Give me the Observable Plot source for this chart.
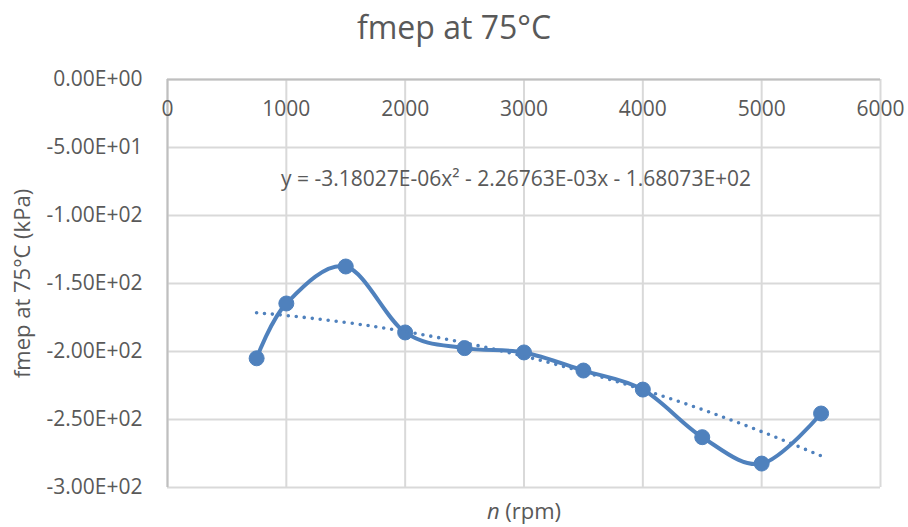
<!DOCTYPE html>
<html><head><meta charset="utf-8">
<script src="https://cdn.jsdelivr.net/npm/d3@7"></script>
<script src="https://cdn.jsdelivr.net/npm/@observablehq/plot@0.6"></script>
<style>
body{margin:0;background:#fff;font-family:"Open Sans",sans-serif;}
#title{height:52px;line-height:54px;text-align:center;font-size:32px;color:#595959;}
#chart svg{display:block;}
</style></head><body>
<div id="title">fmep at 75°C</div>
<div id="chart"></div>
<script>
// Measured series
const rpm = [750, 1000, 1500, 2000, 2500, 3000, 3500, 4000, 4500, 5000, 5500];
const fmep = [-205, -164.7, -137.5, -186, -197.5, -200.7, -214, -228, -263, -282.4, -245.6];

// Polynomial trendline (values read at the sample speeds)
const trendRpm = [750, 1000, 1500, 2000, 2500, 3000, 3500, 4000, 4500, 5000, 5500];
const trendFmep = [-171.56, -173.52, -178.63, -185.33, -193.62, -203.50, -214.97, -228.03, -242.68, -258.92, -276.75];

const xTicks = [0, 1000, 2000, 3000, 4000, 5000, 6000];
const yTicks = [0, -50, -100, -150, -200, -250, -300];
const yTickLabels = ["0.00E+00", "-5.00E+01", "-1.00E+02", "-1.50E+02", "-2.00E+02", "-2.50E+02", "-3.00E+02"];
const equation = "y = -3.18027E-06x² - 2.26763E-03x - 1.68073E+02";
const equationAt = {x: 2933, y: -73.5};
const yLabel = "fmep at 75°C (kPa)";

const data = rpm.map((x, i) => ({x, y: fmep[i]}));
const trend = trendRpm.map((x, i) => ({x, y: trendFmep[i]}));
const blue = "#4F81BD";
const textColor = "#595959";

const chart = Plot.plot({
  width: 908, height: 475,
  marginTop: 27, marginBottom: 40, marginLeft: 167, marginRight: 28,
  x: {domain: [0, 6000], axis: null},
  y: {domain: [-300, 0], axis: null},
  style: {fontFamily: "Open Sans", color: textColor, background: "#fff"},
  marks: [
    Plot.gridX(xTicks, {stroke: "#d9d9d9", strokeOpacity: 1, strokeWidth: 2}),
    Plot.gridY(yTicks, {stroke: "#d9d9d9", strokeOpacity: 1, strokeWidth: 2}),
    Plot.ruleX([0], {stroke: "#bfbfbf", strokeWidth: 2}),
    Plot.ruleY([0], {stroke: "#bfbfbf", strokeWidth: 2}),
    Plot.line(data, {x: "x", y: "y", curve: "cardinal", stroke: blue, strokeWidth: 4}),
    Plot.dot(data, {x: "x", y: "y", r: 7.5, fill: blue, stroke: blue, strokeWidth: 1}),
    Plot.line(trend, {x: "x", y: "y", curve: "natural", stroke: blue, strokeWidth: 3.6,
      strokeDasharray: "0 8", strokeLinecap: "round"}),
    Plot.text(xTicks, {x: d => d, y: 0, dy: 30, text: d => String(d), fontSize: 21, fill: textColor}),
    Plot.text(yTicks, {x: 0, y: d => d, dx: -25, textAnchor: "end", text: (d, i) => yTickLabels[i], fontSize: 21, fill: textColor}),
    Plot.text([equation], {x: equationAt.x, y: equationAt.y, text: d => d, fontSize: 21, fill: textColor}),
    Plot.text([yLabel], {frameAnchor: "left", textAnchor: "middle", dx: -145, rotate: -90, text: d => d, fontSize: 22, fill: textColor}),
    Plot.text(["n (rpm)"], {frameAnchor: "bottom", textAnchor: "middle", dy: 31, text: d => d, fontSize: 22, fill: textColor, className: "xlabel"})
  ]
});
document.getElementById("chart").appendChild(chart);
d3.select(chart).selectAll(".xlabel text").html('<tspan font-style="italic">n</tspan> (rpm)');
</script>
</body></html>
